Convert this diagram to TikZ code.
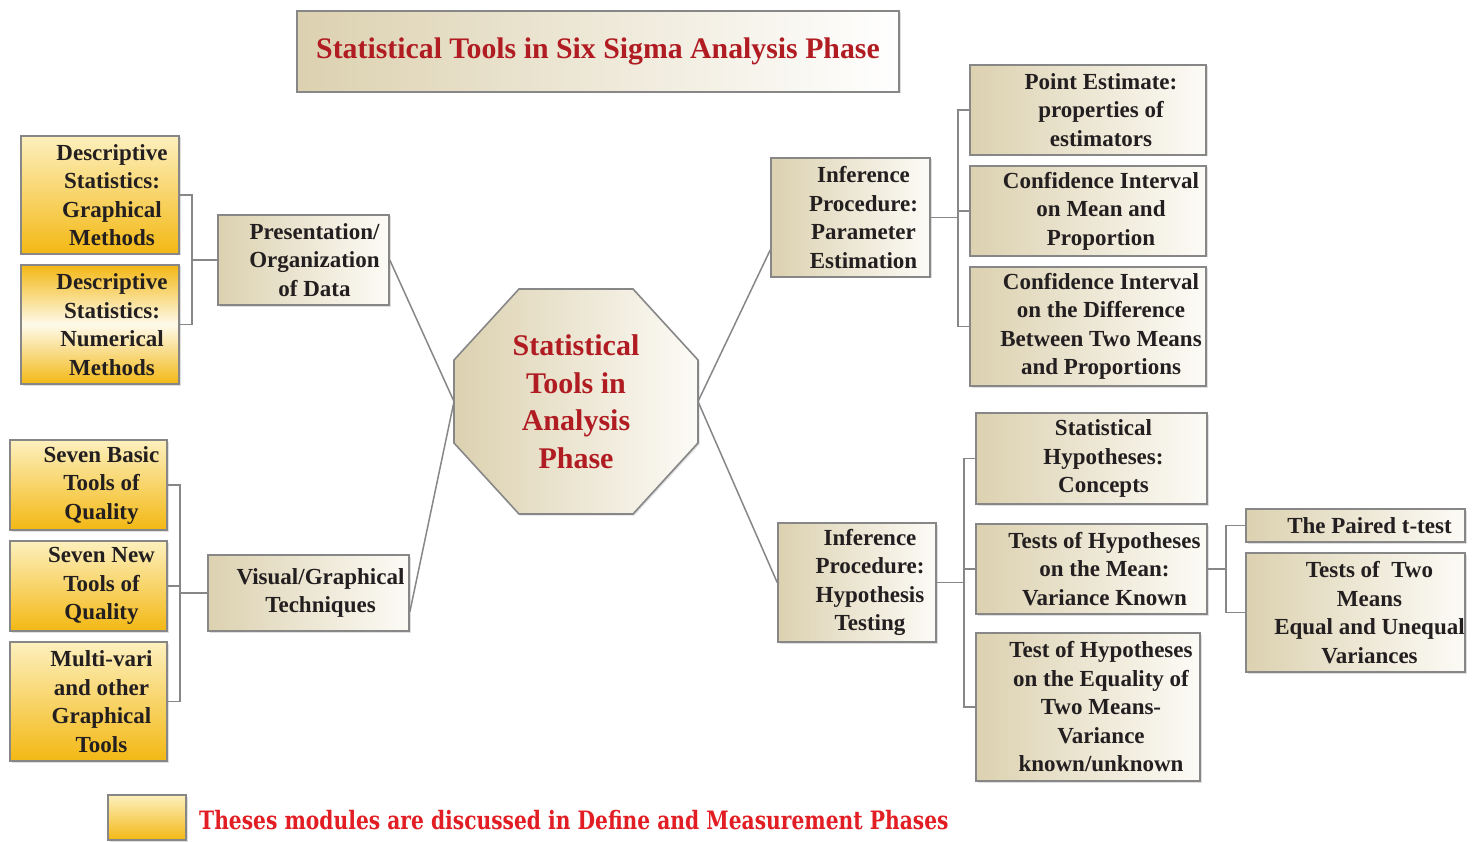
\documentclass[tikz,border=0pt]{standalone}
\usepackage{fontspec}
\setmainfont{Liberation Serif}
\newfontfamily\legendfont[FakeStretch=0.8]{DejaVu Serif}
\usetikzlibrary{shadows,calc}
\definecolor{beigeD}{RGB}{220,209,176}
\definecolor{beigeL}{RGB}{252,251,246}
\definecolor{goldD}{RGB}{243,184,20}
\definecolor{goldL}{RGB}{253,240,190}
\definecolor{lineG}{RGB}{135,135,135}
\definecolor{titleR}{RGB}{176,28,34}
\definecolor{legR}{RGB}{226,30,36}
\definecolor{txtc}{RGB}{35,31,32}
\tikzset{
  box/.style={draw=lineG, line width=1.6pt, inner sep=0pt,
    drop shadow={shadow xshift=1.5pt, shadow yshift=-1.5pt, opacity=0.25}},
  beigebox/.style={box, left color=beigeD, right color=beigeL},
  goldbox/.style={box, top color=goldL, bottom color=goldD},
  goldmid/.style={box, top color=goldD, bottom color=goldD, middle color=goldL!30!white},
  txt/.style={align=center, text=txtc, inner sep=0pt,
    font=\fontsize{23}{28.5}\selectfont\bfseries},
  hubtxt/.style={align=center, text=titleR, inner sep=0pt,
    font=\fontsize{30}{37.5}\selectfont\bfseries},
  conn/.style={draw=lineG, line width=1.5pt}
}
% name, style, x1, y1, x2, y2, text shift, text
\newcommand\mybox[8]{%
  \node[#2, minimum width={#5-#3}, minimum height={#6-#4}] (#1) at ({(#3+#5)/2},{(#4+#6)/2}) {};
  \node[txt] (#1-t) at ([xshift=#7pt]#1.center) {#8};}
\begin{document}
\begin{tikzpicture}[x=1pt,y=-1pt]
\useasboundingbox (0,0) rectangle (1480,842);
\fill[white] (0,0) rectangle (1480,842);

% title
\node[beigebox, left color=beigeD, right color=white, minimum width=602, minimum height=81] (title) at (598,51.5) {};
\node[text=titleR, font=\fontsize{29.8}{34}\selectfont\bfseries, inner sep=0pt] (title-t) at (title.center) {Statistical Tools in Six Sigma Analysis Phase};

% hub octagon
\path[draw=lineG, line width=1.6pt, left color=beigeD, right color=beigeL,
  drop shadow={shadow xshift=1.5pt, shadow yshift=-1.5pt, opacity=0.25}]
  (519,289) -- (633,289) -- (698,360) -- (698,443) -- (633,514) -- (519,514) -- (454,443) -- (454,360) -- cycle;
\node[hubtxt] (hub) at (576,401.5) {Statistical\\Tools in\\Analysis\\Phase};
\coordinate (hubW) at (454,401.5);
\coordinate (hubE) at (698,401.5);

% left upper
\mybox{dsg}{goldbox}{21}{136}{179}{254}{12}{Descriptive\\Statistics:\\Graphical\\Methods}
\mybox{dsn}{goldmid}{21}{265}{179}{384}{12}{Descriptive\\Statistics:\\Numerical\\Methods}
\mybox{pres}{beigebox}{218}{215}{389}{305}{11}{Presentation/\\Organization\\of Data}

% left lower
\mybox{sb}{goldbox}{10}{440}{167}{530}{13}{Seven Basic\\Tools of\\Quality}
\mybox{sn}{goldbox}{10}{541}{167}{631}{13}{Seven New\\Tools of\\Quality}
\mybox{mv}{goldbox}{10}{642}{167}{761}{13}{Multi-vari\\and other\\Graphical\\Tools}
\mybox{vis}{beigebox}{208}{555}{409}{631}{12}{Visual/Graphical\\Techniques}

% right upper
\mybox{ipe}{beigebox}{771}{158}{930}{277}{13}{Inference\\Procedure:\\Parameter\\Estimation}
\mybox{pt}{beigebox}{970}{65}{1206}{155}{13}{Point Estimate:\\properties of\\estimators}
\mybox{cim}{beigebox}{970}{166}{1206}{256}{13}{Confidence Interval\\on Mean and\\Proportion}
\mybox{cid}{beigebox}{970}{267}{1206}{386}{13}{Confidence Interval\\on the Difference\\Between Two Means\\and Proportions}

% right lower
\mybox{iht}{beigebox}{778}{523}{936}{642}{13}{Inference\\Procedure:\\Hypothesis\\Testing}
\mybox{sh}{beigebox}{976}{413}{1207}{504}{12}{Statistical\\Hypotheses:\\Concepts}
\mybox{tm}{beigebox}{976}{524}{1207}{614}{13}{Tests of Hypotheses\\on the Mean:\\Variance Known}
\mybox{teq}{beigebox}{976}{633}{1200}{781}{13}{Test of Hypotheses\\on the Equality of\\Two Means-\\Variance\\known/unknown}
\mybox{pair}{beigebox}{1246}{509}{1465}{542}{14}{The Paired t-test}
\mybox{two}{beigebox}{1246}{553}{1465}{672}{14}{Tests of\ \ Two\\Means\\Equal and Unequal\\Variances}

% legend
\node[goldbox, minimum width=78, minimum height=45] (leg) at (147,817.5) {};
\node[anchor=west, text=legR, inner sep=0pt, font=\legendfont\fontsize{25.3}{28}\selectfont\bfseries] (leg-t) at (199,820) {Theses modules are discussed in Define and Measurement Phases};

% connectors to hub
\draw[conn] (pres.east) -- (hubW);
\draw[conn] ([yshift=-19pt]vis.east) -- (hubW);
\draw[conn] ([yshift=-32.5pt]ipe.west) -- (hubE);
\draw[conn] (iht.west) -- (hubE);

% brackets
\coordinate (bDS) at (192,260);
\draw[conn] (pres.west) -- (bDS);
\draw[conn] (dsg.east) -| (bDS) |- (dsn.east);

\coordinate (bSV) at (180,593);
\draw[conn] (vis.west) -- (bSV);
\draw[conn] (sb.east) -| (bSV) |- (mv.east);
\draw[conn] (sn.east) -- (sn.east -| bSV);

\coordinate (bPE) at (958,217.5);
\draw[conn] (ipe.east) -- (bPE);
\draw[conn] (pt.west) -| (bPE) |- (cid.west);
\draw[conn] (cim.west) -- (cim.west -| bPE);

\coordinate (bHT) at (964,582.5);
\draw[conn] (iht.east) -- (bHT);
\draw[conn] (sh.west) -| (bHT) |- (teq.west);
\draw[conn] (tm.west) -- (tm.west -| bHT);

\coordinate (bTM) at (1226,569);
\draw[conn] (tm.east) -- (bTM);
\draw[conn] (pair.west) -| (bTM) |- (two.west);
\end{tikzpicture}
\end{document}
